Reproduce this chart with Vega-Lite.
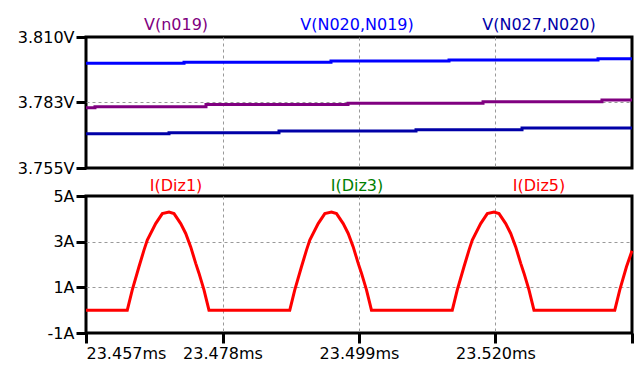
{
  "$schema": "https://vega.github.io/schema/vega-lite/v6.json",
  "padding": {"left": 14, "top": 15, "right": 5, "bottom": 2},
  "spacing": 28,
  "bounds": "flush",
  "config": {
    "font": "DejaVu Sans",
    "view": {"stroke": "black", "strokeWidth": 3},
    "axis": {
      "labelFont": "DejaVu Sans", "labelFontSize": 16, "labelColor": "black",
      "tickColor": "black", "tickWidth": 3, "tickSize": 10, "labelPadding": 2,
      "domain": false, "gridColor": "#999999", "gridDash": [3, 3], "gridWidth": 1,
      "title": null
    }
  },
  "datasets": {
    "top": [
      {"t": 23.457, "v": 3.79896, "s": "V(N020,N019)"},
      {"t": 23.47208, "v": 3.79942, "s": "V(N020,N019)"},
      {"t": 23.49469, "v": 3.79992, "s": "V(N020,N019)"},
      {"t": 23.51285, "v": 3.80034, "s": "V(N020,N019)"},
      {"t": 23.53577, "v": 3.80085, "s": "V(N020,N019)"},
      {"t": 23.541, "v": 3.80085, "s": "V(N020,N019)"},
      {"t": 23.457, "v": 3.78032, "s": "V(n019)"},
      {"t": 23.45838, "v": 3.78074, "s": "V(n019)"},
      {"t": 23.47546, "v": 3.78166, "s": "V(n019)"},
      {"t": 23.49731, "v": 3.78216, "s": "V(n019)"},
      {"t": 23.51808, "v": 3.78284, "s": "V(n019)"},
      {"t": 23.53638, "v": 3.78355, "s": "V(n019)"},
      {"t": 23.541, "v": 3.78355, "s": "V(n019)"},
      {"t": 23.457, "v": 3.7694, "s": "V(N027,N020)"},
      {"t": 23.46977, "v": 3.76982, "s": "V(N027,N020)"},
      {"t": 23.48669, "v": 3.77053, "s": "V(N027,N020)"},
      {"t": 23.50777, "v": 3.77108, "s": "V(N027,N020)"},
      {"t": 23.52408, "v": 3.77179, "s": "V(N027,N020)"},
      {"t": 23.541, "v": 3.77179, "s": "V(N027,N020)"}
    ],
    "topLabels": [
      {"t": 23.47085, "v": 3.81504, "s": "V(n019)"},
      {"t": 23.49869, "v": 3.81504, "s": "V(N020,N019)"},
      {"t": 23.52669, "v": 3.81504, "s": "V(N027,N020)"}
    ],
    "bot": [
      {"t": 23.457, "v": 0, "s": "I(Diz1)"},
      {"t": 23.46335, "v": 0, "s": "I(Diz1)"},
      {"t": 23.46412, "v": 0.89, "s": "I(Diz1)"},
      {"t": 23.46515, "v": 1.9, "s": "I(Diz1)"},
      {"t": 23.46592, "v": 2.63, "s": "I(Diz1)"},
      {"t": 23.46643, "v": 3.07, "s": "I(Diz1)"},
      {"t": 23.46772, "v": 3.79, "s": "I(Diz1)"},
      {"t": 23.46874, "v": 4.23, "s": "I(Diz1)"},
      {"t": 23.46977, "v": 4.3, "s": "I(Diz1)"},
      {"t": 23.47054, "v": 4.23, "s": "I(Diz1)"},
      {"t": 23.47157, "v": 3.79, "s": "I(Diz1)"},
      {"t": 23.47234, "v": 3.36, "s": "I(Diz1)"},
      {"t": 23.47311, "v": 2.77, "s": "I(Diz1)"},
      {"t": 23.47388, "v": 2.05, "s": "I(Diz1)"},
      {"t": 23.47438, "v": 1.62, "s": "I(Diz1)"},
      {"t": 23.47515, "v": 0.89, "s": "I(Diz1)"},
      {"t": 23.47592, "v": 0, "s": "I(Diz1)"},
      {"t": 23.48835, "v": 0, "s": "I(Diz1)"},
      {"t": 23.48912, "v": 0.89, "s": "I(Diz1)"},
      {"t": 23.49015, "v": 1.9, "s": "I(Diz1)"},
      {"t": 23.49092, "v": 2.63, "s": "I(Diz1)"},
      {"t": 23.49143, "v": 3.07, "s": "I(Diz1)"},
      {"t": 23.49272, "v": 3.79, "s": "I(Diz1)"},
      {"t": 23.49374, "v": 4.23, "s": "I(Diz1)"},
      {"t": 23.49477, "v": 4.3, "s": "I(Diz1)"},
      {"t": 23.49554, "v": 4.23, "s": "I(Diz1)"},
      {"t": 23.49657, "v": 3.79, "s": "I(Diz1)"},
      {"t": 23.49734, "v": 3.36, "s": "I(Diz1)"},
      {"t": 23.49811, "v": 2.77, "s": "I(Diz1)"},
      {"t": 23.49888, "v": 2.05, "s": "I(Diz1)"},
      {"t": 23.49938, "v": 1.62, "s": "I(Diz1)"},
      {"t": 23.50015, "v": 0.89, "s": "I(Diz1)"},
      {"t": 23.50092, "v": 0, "s": "I(Diz1)"},
      {"t": 23.51335, "v": 0, "s": "I(Diz1)"},
      {"t": 23.51412, "v": 0.89, "s": "I(Diz1)"},
      {"t": 23.51515, "v": 1.9, "s": "I(Diz1)"},
      {"t": 23.51592, "v": 2.63, "s": "I(Diz1)"},
      {"t": 23.51643, "v": 3.07, "s": "I(Diz1)"},
      {"t": 23.51772, "v": 3.79, "s": "I(Diz1)"},
      {"t": 23.51874, "v": 4.23, "s": "I(Diz1)"},
      {"t": 23.51977, "v": 4.3, "s": "I(Diz1)"},
      {"t": 23.52054, "v": 4.23, "s": "I(Diz1)"},
      {"t": 23.52157, "v": 3.79, "s": "I(Diz1)"},
      {"t": 23.52234, "v": 3.36, "s": "I(Diz1)"},
      {"t": 23.52311, "v": 2.77, "s": "I(Diz1)"},
      {"t": 23.52388, "v": 2.05, "s": "I(Diz1)"},
      {"t": 23.52438, "v": 1.62, "s": "I(Diz1)"},
      {"t": 23.52515, "v": 0.89, "s": "I(Diz1)"},
      {"t": 23.52592, "v": 0, "s": "I(Diz1)"},
      {"t": 23.53835, "v": 0, "s": "I(Diz1)"},
      {"t": 23.53912, "v": 0.89, "s": "I(Diz1)"},
      {"t": 23.54015, "v": 1.9, "s": "I(Diz1)"},
      {"t": 23.541, "v": 2.6, "s": "I(Diz1)"}
    ],
    "botLabels": [
      {"t": 23.47085, "v": 5.43, "s": "I(Diz1)"},
      {"t": 23.49869, "v": 5.43, "s": "I(Diz3)"},
      {"t": 23.52669, "v": 5.43, "s": "I(Diz5)"}
    ]
  },
  "vconcat": [
    {
      "width": 546,
      "height": 131,
      "layer": [
        {
          "data": {"name": "top"},
          "mark": {"type": "line", "interpolate": "step-after", "strokeWidth": 3},
          "encoding": {
            "x": {
              "field": "t", "type": "quantitative",
              "scale": {"domain": [23.457, 23.541], "nice": false, "zero": false},
              "axis": {
                "values": [23.457, 23.478, 23.499, 23.52, 23.541],
                "labels": false, "ticks": false, "grid": true,
                "gridOpacity": {"condition": {"test": "datum.value < 23.46 || datum.value > 23.538", "value": 0}, "value": 1}
              }
            },
            "y": {
              "field": "v", "type": "quantitative",
              "scale": {"domain": [3.755, 3.81], "nice": false, "zero": false},
              "axis": {
                "values": [3.755, 3.7825, 3.81],
                "labelExpr": "format(datum.value + 0.0001, '.3f') + 'V'",
                "minExtent": 70, "maxExtent": 70, "grid": true,
                "gridOpacity": {"condition": {"test": "datum.value < 3.76 || datum.value > 3.805", "value": 0}, "value": 1}
              }
            },
            "color": {
              "field": "s", "type": "nominal", "legend": null,
              "scale": {
                "domain": ["V(n019)", "V(N020,N019)", "V(N027,N020)", "I(Diz1)", "I(Diz3)", "I(Diz5)"],
                "range": ["#800080", "#0000ff", "#0000a8", "#ff0000", "#008000", "#ff0000"]
              }
            }
          }
        },
        {
          "data": {"name": "topLabels"},
          "mark": {"type": "text", "font": "DejaVu Sans", "fontSize": 16, "baseline": "middle", "align": "center"},
          "encoding": {
            "x": {"field": "t", "type": "quantitative", "scale": {"domain": [23.457, 23.541], "nice": false, "zero": false}},
            "y": {"field": "v", "type": "quantitative", "scale": {"domain": [3.755, 3.81], "nice": false, "zero": false}},
            "text": {"field": "s"},
            "color": {"field": "s", "type": "nominal", "legend": null}
          }
        }
      ]
    },
    {
      "width": 546,
      "height": 137,
      "layer": [
        {
          "data": {"name": "bot"},
          "mark": {"type": "line", "strokeWidth": 3},
          "encoding": {
            "x": {
              "field": "t", "type": "quantitative",
              "scale": {"domain": [23.457, 23.541], "nice": false, "zero": false},
              "axis": {
                "values": [23.457, 23.478, 23.499, 23.52, 23.541],
                "labelExpr": "datum.value > 23.53 ? '' : format(datum.value, '.3f') + 'ms'",
                "grid": true,
                "gridOpacity": {"condition": {"test": "datum.value < 23.46 || datum.value > 23.538", "value": 0}, "value": 1}
              }
            },
            "y": {
              "field": "v", "type": "quantitative",
              "scale": {"domain": [-1, 5], "nice": false, "zero": false},
              "axis": {
                "values": [-1, 1, 3, 5],
                "labelExpr": "datum.value + 'A'",
                "minExtent": 70, "maxExtent": 70, "grid": true,
                "gridOpacity": {"condition": {"test": "datum.value < -0.5 || datum.value > 4.5", "value": 0}, "value": 1}
              }
            },
            "color": {
              "field": "s", "type": "nominal", "legend": null,
              "scale": {
                "domain": ["V(n019)", "V(N020,N019)", "V(N027,N020)", "I(Diz1)", "I(Diz3)", "I(Diz5)"],
                "range": ["#800080", "#0000ff", "#0000a8", "#ff0000", "#008000", "#ff0000"]
              }
            }
          }
        },
        {
          "data": {"name": "botLabels"},
          "mark": {"type": "text", "font": "DejaVu Sans", "fontSize": 16, "baseline": "middle", "align": "center"},
          "encoding": {
            "x": {"field": "t", "type": "quantitative", "scale": {"domain": [23.457, 23.541], "nice": false, "zero": false}},
            "y": {"field": "v", "type": "quantitative", "scale": {"domain": [-1, 5], "nice": false, "zero": false}},
            "text": {"field": "s"},
            "color": {"field": "s", "type": "nominal", "legend": null}
          }
        }
      ]
    }
  ]
}
